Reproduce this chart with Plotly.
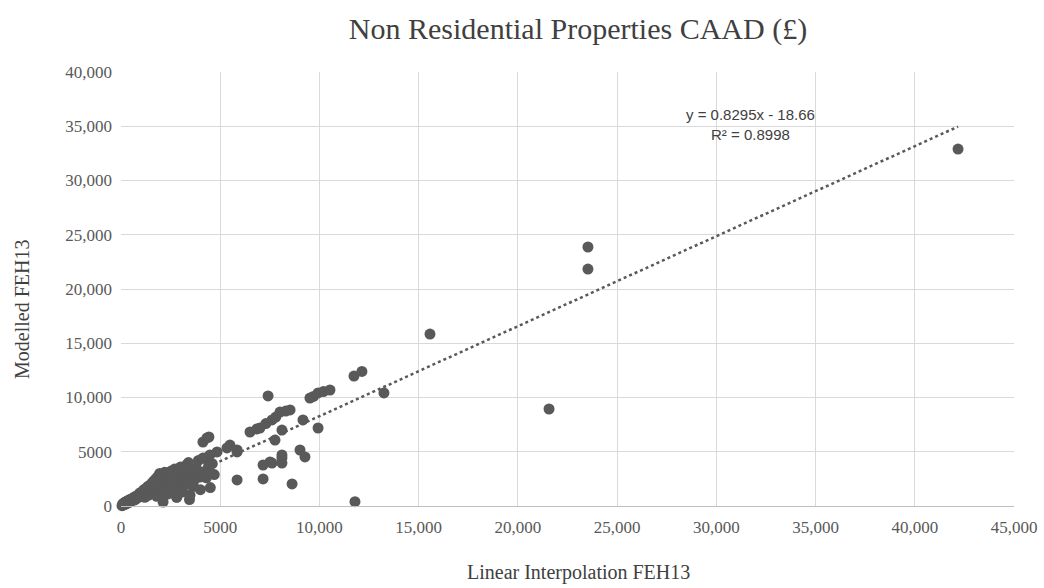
import plotly.graph_objects as go

# Data (Linear Interpolation FEH13, Modelled FEH13)
x_vals = [
    50, 100, 150, 200, 250, 300, 350, 400, 450, 500, 80, 120, 180, 220, 300, 380, 450, 520, 600, 650,
    700, 750, 800, 850, 900, 950, 1000, 1050, 1100, 1150, 1200, 1250, 1300, 1350, 1400, 1450, 1500,
    1550, 1600, 1650, 1700, 1750, 1800, 1850, 1900, 1950, 2000, 2050, 2100, 2150, 2200, 2250, 2300,
    2350, 2400, 2450, 2500, 2550, 2600, 2700, 2750, 2800, 2850, 2900, 3000, 3050, 3100, 3150, 3200,
    3300, 3350, 3400, 3450, 3500, 3600, 3650, 3700, 3800, 3900, 3950, 4000, 4100, 4200, 4300, 4400,
    4500, 4500, 4600, 4700, 2120, 2820, 3480, 3980, 4480,
    4130, 4480, 4840, 5340, 5490, 5850, 5850, 4130, 4330, 4430, 5850, 7160, 8620,
    6500, 6850, 7000, 7300, 7610, 7800, 8010, 8300, 8520, 9520, 9700, 9930, 10200, 10530,
    7410, 9170, 8110, 7760, 9930, 7510, 8110, 8110, 7160, 7610, 9020, 9270, 8110,
    11790, 11740, 12140, 13250, 15570, 21570, 23530, 23530, 42180,
]
y_vals = [
    30, 80, 120, 150, 200, 260, 280, 330, 380, 420, 160, 250, 300, 380, 450, 500, 600, 650, 700, 800,
    560, 900, 700, 1000, 850, 1200, 900, 1300, 1100, 1500, 800, 1600, 1200, 1800, 1000, 1900, 1400,
    2100, 1200, 2300, 1600, 2500, 900, 2700, 1800, 3000, 1300, 2200, 2800, 1600, 3100, 1900, 2500,
    1100, 2800, 2000, 3200, 1500, 2600, 3400, 2100, 800, 2900, 1700, 3600, 2300, 1300, 3200, 2600,
    3800, 2000, 4000, 600, 2900, 3300, 1800, 2400, 3500, 4200, 2800, 1500, 3100, 4400, 2600, 3600,
    1700, 3000, 3900, 2900, 370, 830, 1010, 2670, 3040,
    4420, 4700, 4980, 5350, 5620, 5160, 4980, 5900, 6270, 6360, 2400, 2490, 2030,
    6820, 7100, 7190, 7600, 7930, 8200, 8660, 8750, 8850, 9950, 10100, 10420, 10550, 10690,
    10140, 7930, 7000, 6080, 7190, 4060, 4420, 3960, 3780, 3960, 5160, 4520, 4700,
    400, 11980, 12400, 10420, 15850, 8940, 23870, 21840, 32900,
]

# Trendline as shown on the chart
slope = 0.8295
intercept = -18.66
trend_x = [0, max(x_vals)]
trend_y = [slope * v + intercept for v in trend_x]

x_ticks = [0, 5000, 10000, 15000, 20000, 25000, 30000, 35000, 40000, 45000]
x_tick_text = ["0", "5000", "10,000", "15,000", "20,000", "25,000", "30,000", "35,000", "40,000", "45,000"]
y_ticks = [0, 5000, 10000, 15000, 20000, 25000, 30000, 35000, 40000]
y_tick_text = ["0", "5000", "10,000", "15,000", "20,000", "25,000", "30,000", "35,000", "40,000"]

mark = "#595959"
fig = go.Figure()
fig.add_trace(go.Scatter(x=x_vals, y=y_vals, mode="markers",
                         marker=dict(color=mark, size=11, line=dict(width=0)),
                         showlegend=False, cliponaxis=False))
fig.add_trace(go.Scatter(x=trend_x, y=trend_y, mode="lines",
                         line=dict(color=mark, width=2.5, dash="dot"),
                         showlegend=False))

W, H = 1044, 588
L, R, T, B = 121, 30, 72, 82
PW, PH = W - L - R, H - T - B


def px(page_x):
    return (page_x - L) / PW


def py(page_y):
    return (H - B - page_y) / PH


font_serif = "Liberation Serif"
fig.update_layout(
    width=W, height=H,
    margin=dict(l=L, r=R, t=T, b=B, autoexpand=False),
    paper_bgcolor="white", plot_bgcolor="white",
    title=dict(text="Non Residential Properties CAAD (£)", x=578 / W, xanchor="center",
               y=1 - 28 / H, yanchor="middle",
               font=dict(family=font_serif, size=30, color="#404040")),
    xaxis=dict(range=[0, 45000], tickvals=x_ticks, ticktext=x_tick_text,
               showgrid=True, gridcolor="#d9d9d9", gridwidth=1,
               showline=True, linecolor="#bfbfbf", zeroline=False, automargin=False,
               ticks="", ticklabelstandoff=6,
               tickfont=dict(family=font_serif, size=17, color="#595959")),
    yaxis=dict(range=[0, 40000], tickvals=y_ticks, ticktext=y_tick_text,
               showgrid=True, gridcolor="#d9d9d9", gridwidth=1,
               showline=False, zeroline=False, automargin=False,
               ticks="", ticklabelstandoff=8,
               tickfont=dict(family=font_serif, size=17, color="#595959")),
    annotations=[
        dict(text="y = 0.8295x - 18.66<br>R² = 0.8998",
             x=px(750), y=py(124),
             xref="paper", yref="paper",
             showarrow=False, xanchor="center", yanchor="middle",
             font=dict(family="Liberation Sans", size=15, color="#404040"), align="center"),
        dict(text="Linear Interpolation FEH13", x=px(578), y=py(572),
             xref="paper", yref="paper", showarrow=False, xanchor="center", yanchor="middle",
             font=dict(family=font_serif, size=20, color="#404040")),
        dict(text="Modelled FEH13", x=px(22), y=py(310), textangle=-90,
             xref="paper", yref="paper", showarrow=False, xanchor="center", yanchor="middle",
             font=dict(family=font_serif, size=20, color="#404040")),
    ],
)

fig.write_html(
    "out.html",
    config={"displayModeBar": False},
    post_script="document.body.style.margin='0';document.documentElement.style.overflow='hidden';",
)
